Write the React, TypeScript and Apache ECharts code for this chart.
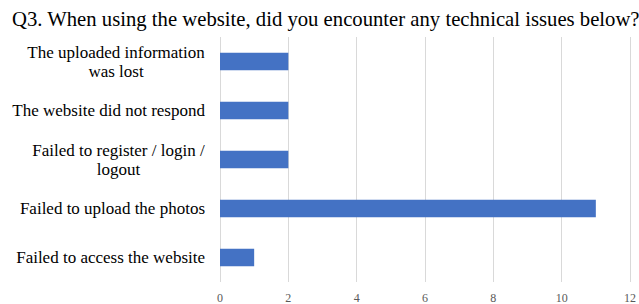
import React, { useEffect, useRef } from "react";
import * as echarts from "echarts";

const TITLE = "Q3. When using the website, did you encounter any technical issues below?";
const CATEGORIES = [
  "The uploaded information\nwas lost",
  "The website did not respond",
  "Failed to register / login /\nlogout",
  "Failed to upload the photos",
  "Failed to access the website",
];
const VALUES = [2, 2, 2, 11, 1];
const X_MIN = 0;
const X_MAX = 12;
const X_INTERVAL = 2;

const FONT = '"Liberation Serif", "Times New Roman", serif';
const LABEL_SIZE = 17;

function measure(text: string, size: number): number {
  const c = document.createElement("canvas");
  const ctx = c.getContext("2d");
  if (!ctx) return text.length * size * 0.45;
  ctx.font = `${size}px ${FONT}`;
  return ctx.measureText(text).width;
}

export default function App() {
  const ref = useRef<HTMLDivElement>(null);
  useEffect(() => {
    document.body.style.margin = "0";
    if (!ref.current) return;
    const chart = echarts.init(ref.current, null, { renderer: "svg" });
    const rich: Record<string, any> = {};
    CATEGORIES.forEach((c, i) => {
      const lines = c.split("\n");
      const w = Math.ceil(Math.max(...lines.map((l) => measure(l, LABEL_SIZE))));
      rich["r" + i] = {
        width: w,
        align: "center",
        fontSize: LABEL_SIZE,
        fontFamily: FONT,
        color: "#000",
        lineHeight: 19,
      };
    });
    chart.setOption({
      animation: false,
      title: {
        text: TITLE,
        left: 7,
        top: 3,
        textStyle: { fontFamily: FONT, fontSize: 20.7, fontWeight: "normal", color: "#000" },
      },
      grid: { left: 220, right: 7, top: 37, bottom: 22, containLabel: false },
      xAxis: {
        type: "value",
        min: X_MIN,
        max: X_MAX,
        interval: X_INTERVAL,
        axisLine: { show: false },
        axisTick: { show: false },
        splitLine: { show: true, lineStyle: { color: "#d9d9d9", width: 1 } },
        axisLabel: { fontFamily: FONT, fontSize: 12, color: "#595959", margin: 10 },
      },
      yAxis: {
        type: "category",
        inverse: true,
        data: CATEGORIES,
        axisLine: { show: false },
        axisTick: { show: false },
        axisLabel: {
          margin: 15,
          fontFamily: FONT,
          fontSize: LABEL_SIZE,
          color: "#000",
          lineHeight: 19,
          formatter: (v: string) => {
            const i = CATEGORIES.indexOf(v);
            if (v.indexOf("\n") < 0) return v;
            return v
              .split("\n")
              .map((l) => `{r${i}|${l}}`)
              .join("\n");
          },
          rich,
        },
      },
      series: [
        {
          type: "bar",
          data: VALUES,
          barCategoryGap: "64%",
          itemStyle: { color: "#4472C4" },
        },
      ],
    });
    return () => chart.dispose();
  }, []);
  return <div ref={ref} style={{ width: 639, height: 304 }} />;
}
